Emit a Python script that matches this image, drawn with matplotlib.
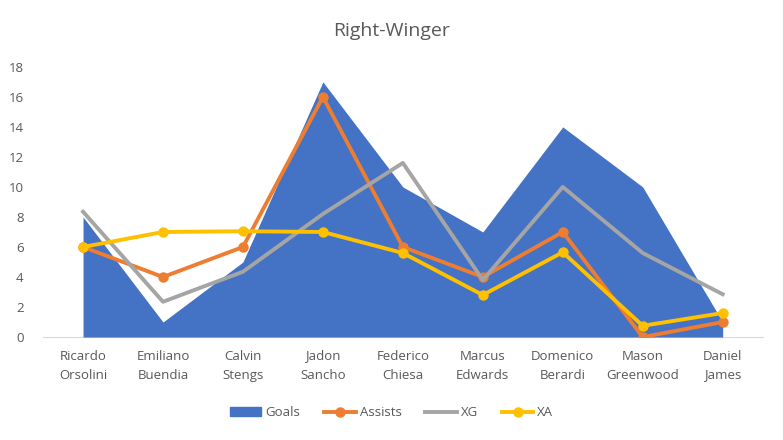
import matplotlib
matplotlib.use("Agg")
import matplotlib.pyplot as plt
from matplotlib.patches import Patch
from matplotlib.lines import Line2D

players = ["Ricardo\nOrsolini", "Emiliano\nBuendia", "Calvin\nStengs", "Jadon\nSancho",
           "Federico\nChiesa", "Marcus\nEdwards", "Domenico\nBerardi", "Mason\nGreenwood",
           "Daniel\nJames"]
goals = [8, 1, 5, 17, 10, 7, 14, 10, 1]
assists = [6, 4, 6, 16, 6, 4, 7, 0, 1]
xg = [8.35, 2.35, 4.35, 8.2, 11.6, 3.8, 10.0, 5.6, 2.85]
xa = [6.0, 7.0, 7.05, 7.0, 5.6, 2.8, 5.65, 0.75, 1.6]

plt.rcParams['font.family'] = ['Open Sans', 'DejaVu Sans']
grey_txt = "#595959"

fig = plt.figure(figsize=(7.83, 4.4), dpi=100)
ax = fig.add_axes([0.055, 0.234, 0.919, 0.614])

x = list(range(len(players)))
ax.fill_between(x, goals, 0, color="#4472C4", linewidth=0, zorder=1)
ax.plot(x, assists, color="#ED7D31", lw=2.8, marker="o", ms=6.5, zorder=2)
ax.plot(x, xg, color="#A5A5A5", lw=2.8, zorder=3)
ax.plot(x, xa, color="#FFC000", lw=2.8, marker="o", ms=6.5, zorder=4)

ax.set_xlim(-0.5, len(players) - 0.5)
ax.set_ylim(0, 18)
ax.set_yticks(range(0, 19, 2))
ax.set_xticks(x)
ax.set_xticklabels(players, fontsize=9.5, color=grey_txt, linespacing=1.6)
ax.tick_params(axis="y", labelsize=9.5, labelcolor=grey_txt, length=0, pad=14)
ax.tick_params(axis="x", length=0, pad=9)
for s in ["top", "right", "left"]:
    ax.spines[s].set_visible(False)
ax.spines["bottom"].set_color("#D9D9D9")
ax.spines["bottom"].set_zorder(0)

fig.suptitle("Right-Winger", y=0.95, fontsize=14, color=grey_txt)

handles = [
    Patch(color="#4472C4", label="Goals"),
    Line2D([], [], color="#ED7D31", lw=2.8, marker="o", ms=6.5, label="Assists"),
    Line2D([], [], color="#A5A5A5", lw=2.8, label="XG"),
    Line2D([], [], color="#FFC000", lw=2.8, marker="o", ms=6.5, label="XA"),
]
leg = fig.legend(handles=handles, loc="center", bbox_to_anchor=(0.5, 0.062), ncol=4,
                 frameon=False, fontsize=9.5, handlelength=2.4, handletextpad=0.3,
                 columnspacing=1.8)
for t in leg.get_texts():
    t.set_color(grey_txt)

fig.savefig("out.png", dpi=100)
